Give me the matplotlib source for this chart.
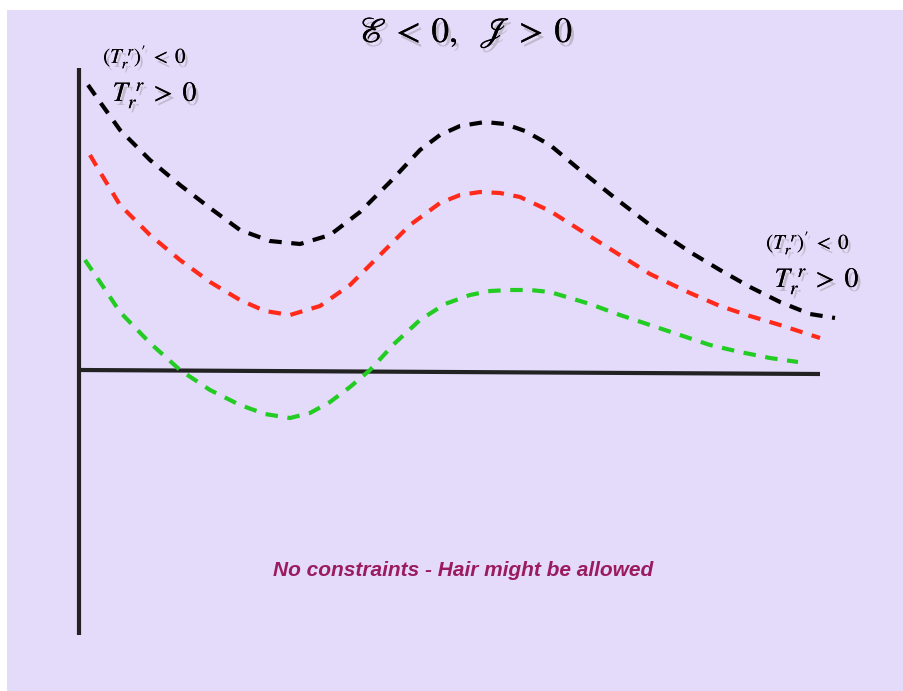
import matplotlib
matplotlib.use("Agg")
import matplotlib.pyplot as plt
import matplotlib.patheffects as pe
from matplotlib.patches import Rectangle

plt.rcParams['mathtext.fontset'] = 'stix'

# curve data (pixel-like units, y downward)
black_x = [88, 100, 120, 150, 180, 210, 240, 270, 300, 330, 360, 390, 420, 440, 460, 485, 505, 525, 550, 580, 615, 650, 690, 720, 750, 780, 810, 835]
black_y = [85, 102, 130, 160, 185, 208, 230, 241, 244, 235, 212, 182, 150, 135, 126, 122, 124, 131, 145, 170, 198, 225, 252, 270, 287, 302, 314, 318]
red_x = [90, 100, 120, 150, 180, 210, 240, 265, 290, 320, 350, 380, 410, 440, 460, 480, 500, 520, 550, 580, 615, 650, 690, 720, 750, 780, 820]
red_y = [155, 172, 205, 235, 260, 282, 300, 311, 315, 306, 285, 255, 225, 203, 195, 192, 193, 197, 211, 230, 252, 274, 293, 306, 316, 325, 338]
green_x = [85, 100, 120, 150, 180, 210, 240, 265, 290, 310, 330, 350, 370, 395, 420, 445, 470, 490, 510, 530, 550, 590, 620, 650, 680, 710, 740, 770, 798]
green_y = [260, 282, 312, 343, 370, 390, 405, 414, 418, 413, 402, 387, 370, 343, 320, 304, 295, 291, 290, 290, 292, 304, 315, 325, 335, 345, 352, 358, 362]

fig = plt.figure(figsize=(9.04, 6.91), dpi=100)
ax = fig.add_axes([0, 0, 1, 1])
ax.set_xlim(0, 904)
ax.set_ylim(691, 0)
ax.axis('off')

ax.add_patch(Rectangle((7, 10), 897, 681, facecolor='#E4DAF9', edgecolor='none', zorder=0))

# axes lines
ax.plot([79, 79], [68, 635], color='#222222', lw=3, solid_capstyle='butt', zorder=2)
ax.plot([80, 820], [370, 374], color='#222222', lw=3, solid_capstyle='butt', zorder=2)

ls = dict(lw=3, linestyle=(0, (3, 2.3)), zorder=3)
ax.plot(black_x, black_y, color='black', **ls)
ax.plot(red_x, red_y, color='#FF2A1A', **ls)
ax.plot(green_x, green_y, color='#22CC22', **ls)

shadow = [pe.withSimplePatchShadow(offset=(2, -3), shadow_rgbFace='#888888', alpha=0.4), pe.Normal()]

ax.text(466, 33, r'$\mathscr{E}\: <\: 0,\ \ \mathscr{J}\: >\: 0$', fontsize=25.5, ha='center', va='center',
        path_effects=shadow)
ax.text(145, 57, r"$(T_r^{\ r})' \;<\; 0$", fontsize=15, ha='center', va='center', path_effects=shadow)
ax.text(155, 95, r"$T_r^{\ r} \;>\; 0$", fontsize=20, ha='center', va='center', path_effects=shadow)
ax.text(808, 243, r"$(T_r^{\ r})' \;<\; 0$", fontsize=15, ha='center', va='center', path_effects=shadow)
ax.text(817, 281, r"$T_r^{\ r} \;>\; 0$", fontsize=20, ha='center', va='center', path_effects=shadow)

ax.text(463, 571, 'No constraints - Hair might be allowed', fontsize=15, fontweight='bold',
        fontstyle='italic', family='Liberation Sans', color='#9B1B5F', ha='center', va='center')

fig.savefig('out.png', dpi=100)
